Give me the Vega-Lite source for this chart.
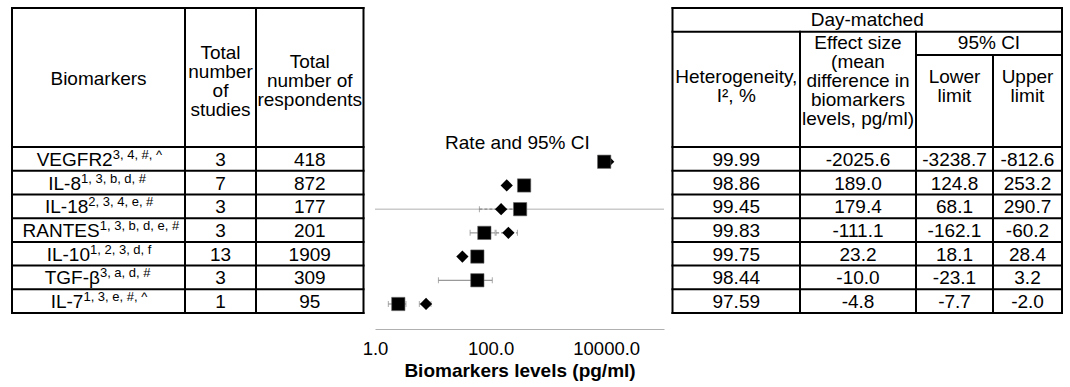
{
  "$schema": "https://vega.github.io/schema/vega-lite/v6.json",
  "padding": 0,
  "autosize": {"type": "pad"},
  "background": "white",
  "spacing": 9,
  "bounds": "flush",
  "config": {
    "font": "Liberation Sans",
    "view": {"stroke": null},
    "locale": {"number": {"decimal": ".", "thousands": ",", "grouping": [3], "currency": ["$", ""], "minus": "-"}},
    "text": {"color": "black", "fontSize": 19, "baseline": "middle", "lineHeight": 19}
  },
  "datasets": {
    "rows": [
      {"r": 0, "label": "VEGFR2", "sup": "3, 4, #, ^", "jx": 112.7, "studies": "3", "resp": "418", "i2": 99.99, "es": -2025.6, "lo": -3238.7, "hi": -812.6, "sq": 9230, "dm": 10830},
      {"r": 1, "label": "IL-8", "sup": "1, 3, b, d, #", "jx": 81, "studies": "7", "resp": "872", "i2": 98.86, "es": 189.0, "lo": 124.8, "hi": 253.2, "sq": 380, "dm": 190},
      {"r": 2, "label": "IL-18", "sup": "2, 3, 4, e, #", "jx": 88.3, "studies": "3", "resp": "177", "i2": 99.45, "es": 179.4, "lo": 68.1, "hi": 290.7, "sq": 324, "dm": 152, "dmLo": 64, "dmHi": 340},
      {"r": 3, "label": "RANTES", "sup": "1, 3, b, d, e, #", "jx": 99.7, "studies": "3", "resp": "201", "i2": 99.83, "es": -111.1, "lo": -162.1, "hi": -60.2, "sq": 78, "sqLo": 44.2, "sqHi": 119.7, "dm": 203, "dmLo": 124.5, "dmHi": 291},
      {"r": 4, "label": "IL-10", "sup": "1, 2, 3, d, f", "jx": 90, "studies": "13", "resp": "1909", "i2": 99.75, "es": 23.2, "lo": 18.1, "hi": 28.4, "sq": 59, "dm": 32.5},
      {"r": 5, "label": "TGF-β", "sup": "3, a, d, #", "jx": 99.9, "studies": "3", "resp": "309", "i2": 98.44, "es": -10.0, "lo": -23.1, "hi": 3.2, "sq": 59, "sqLo": 12.5, "sqHi": 107},
      {"r": 6, "label": "IL-7", "sup": "1, 3, e, #, ^", "jx": 83.4, "studies": "1", "resp": "95", "i2": 97.59, "es": -4.8, "lo": -7.7, "hi": -2.0, "sq": 2.53, "sqLo": 1.70, "sqHi": 3.44, "dm": 7.64, "dmLo": 5.85, "dmHi": 9.3}
    ],
    "leftLines": [
      {"x": 12, "x2": 363.5, "y": -6.37, "y2": -6.37},
      {"x": 12, "x2": 363.5, "y": -0.5, "y2": -0.5},
      {"x": 12, "x2": 363.5, "y": 0.5, "y2": 0.5},
      {"x": 12, "x2": 363.5, "y": 1.5, "y2": 1.5},
      {"x": 12, "x2": 363.5, "y": 2.5, "y2": 2.5},
      {"x": 12, "x2": 363.5, "y": 3.5, "y2": 3.5},
      {"x": 12, "x2": 363.5, "y": 4.5, "y2": 4.5},
      {"x": 12, "x2": 363.5, "y": 5.5, "y2": 5.5},
      {"x": 12, "x2": 363.5, "y": 6.5, "y2": 6.5},
      {"x": 12, "x2": 12, "y": -6.37, "y2": 6.5},
      {"x": 185, "x2": 185, "y": -6.37, "y2": 6.5},
      {"x": 256, "x2": 256, "y": -6.37, "y2": 6.5},
      {"x": 363.5, "x2": 363.5, "y": -6.37, "y2": 6.5}
    ],
    "leftHead": [
      {"x": 98.5, "y": -3.368, "t": "Biomarkers"},
      {"x": 220.5, "y": -4.465, "t": "Total\nnumber\nof\nstudies"},
      {"x": 309.75, "y": -4.085, "t": "Total\nnumber of\nrespondents"}
    ],
    "rightLines": [
      {"x": -0.5, "x2": 389, "y": -6.37, "y2": -6.37},
      {"x": -0.5, "x2": 389, "y": -5.364, "y2": -5.364},
      {"x": 243, "x2": 389, "y": -4.381, "y2": -4.381},
      {"x": -0.5, "x2": 389, "y": -0.5, "y2": -0.5},
      {"x": -0.5, "x2": 389, "y": 0.5, "y2": 0.5},
      {"x": -0.5, "x2": 389, "y": 1.5, "y2": 1.5},
      {"x": -0.5, "x2": 389, "y": 2.5, "y2": 2.5},
      {"x": -0.5, "x2": 389, "y": 3.5, "y2": 3.5},
      {"x": -0.5, "x2": 389, "y": 4.5, "y2": 4.5},
      {"x": -0.5, "x2": 389, "y": 5.5, "y2": 5.5},
      {"x": -0.5, "x2": 389, "y": 6.5, "y2": 6.5},
      {"x": -0.5, "x2": -0.5, "y": -6.37, "y2": 6.5},
      {"x": 389, "x2": 389, "y": -6.37, "y2": 6.5},
      {"x": 127, "x2": 127, "y": -5.364, "y2": 6.5},
      {"x": 243, "x2": 243, "y": -5.364, "y2": 6.5},
      {"x": 320, "x2": 320, "y": -4.381, "y2": 6.5}
    ],
    "rightHead": [
      {"x": 194.25, "y": -5.857, "t": "Day-matched"},
      {"x": 63.25, "y": -3.453, "t": "Heterogeneity,\nI², %"},
      {"x": 185, "y": -4.887, "t": "Effect size\n(mean\ndifference in\nbiomarkers\nlevels, pg/ml)"},
      {"x": 316, "y": -4.887, "t": "95% CI"},
      {"x": 281.5, "y": -3.453, "t": "Lower\nlimit"},
      {"x": 354.5, "y": -3.453, "t": "Upper\nlimit"}
    ]
  },
  "hconcat": [
    {
      "width": 366,
      "height": 313,
      "layer": [
        {
          "data": {"name": "leftLines"},
          "mark": {"type": "rule", "color": "black", "strokeWidth": 2, "strokeCap": "square"},
          "encoding": {
            "x": {"field": "x", "type": "quantitative", "scale": {"domain": [0, 366], "nice": false, "zero": false}, "axis": null},
            "x2": {"field": "x2"},
            "y": {"field": "y", "type": "quantitative", "scale": {"domain": [-6.7025, 6.5], "reverse": true, "nice": false, "zero": false}, "axis": null},
            "y2": {"field": "y2"}
          }
        },
        {
          "data": {"name": "leftHead"},
          "mark": {"type": "text", "lineBreak": "\n", "align": "center"},
          "encoding": {
            "x": {"field": "x", "type": "quantitative", "scale": {"domain": [0, 366], "nice": false, "zero": false}, "axis": null},
            "y": {"field": "y", "type": "quantitative", "scale": {"domain": [-6.7025, 6.5], "reverse": true, "nice": false, "zero": false}, "axis": null},
            "text": {"field": "t", "type": "nominal"}
          }
        },
        {
          "data": {"name": "rows"},
          "mark": {"type": "text", "align": "right", "dy": 1},
          "encoding": {
            "x": {"field": "jx", "type": "quantitative", "scale": {"domain": [0, 366], "nice": false, "zero": false}, "axis": null},
            "y": {"field": "r", "type": "quantitative", "scale": {"domain": [-6.7025, 6.5], "reverse": true, "nice": false, "zero": false}, "axis": null},
            "text": {"field": "label", "type": "nominal"}
          }
        },
        {
          "data": {"name": "rows"},
          "mark": {"type": "text", "align": "left", "dy": -4, "fontSize": 13},
          "encoding": {
            "x": {"field": "jx", "type": "quantitative", "scale": {"domain": [0, 366], "nice": false, "zero": false}, "axis": null},
            "y": {"field": "r", "type": "quantitative", "scale": {"domain": [-6.7025, 6.5], "reverse": true, "nice": false, "zero": false}, "axis": null},
            "text": {"field": "sup", "type": "nominal"}
          }
        },
        {
          "data": {"name": "rows"},
          "mark": {"type": "text", "align": "center", "dy": 1},
          "encoding": {
            "x": {"datum": 220.5, "type": "quantitative", "scale": {"domain": [0, 366], "nice": false, "zero": false}, "axis": null},
            "y": {"field": "r", "type": "quantitative", "scale": {"domain": [-6.7025, 6.5], "reverse": true, "nice": false, "zero": false}, "axis": null},
            "text": {"field": "studies", "type": "nominal"}
          }
        },
        {
          "data": {"name": "rows"},
          "mark": {"type": "text", "align": "center", "dy": 1},
          "encoding": {
            "x": {"datum": 309.75, "type": "quantitative", "scale": {"domain": [0, 366], "nice": false, "zero": false}, "axis": null},
            "y": {"field": "r", "type": "quantitative", "scale": {"domain": [-6.7025, 6.5], "reverse": true, "nice": false, "zero": false}, "axis": null},
            "text": {"field": "resp", "type": "nominal"}
          }
        }
      ]
    },
    {
      "width": 289,
      "height": 313,
      "data": {"name": "rows"},
      "layer": [
        {
          "transform": [{"filter": "datum.label == 'IL-18'"}],
          "mark": {"type": "rule", "color": "#b0b0b0", "strokeWidth": 1},
          "encoding": {
            "y": {"field": "r", "type": "quantitative", "scale": {"domain": [-6.8225, 6.38], "reverse": true, "nice": false, "zero": false}, "axis": null}
          }
        },
        {
          "transform": [{"filter": "datum.sqLo != null"}],
          "mark": {"type": "rule", "color": "#999999", "strokeWidth": 1.2},
          "encoding": {
            "x": {"field": "sqLo", "type": "quantitative", "scale": {"type": "log", "domain": [1, 100000], "nice": false},
              "axis": {"values": [1, 100, 10000], "format": ".1f", "labelFontSize": 18.5, "labelColor": "black", "domainColor": "#b0b0b0", "ticks": false, "grid": false, "offset": 16, "labelPadding": 10, "labelFlush": false, "labelOverlap": false,
                "title": "Biomarkers levels (pg/ml)", "titleFontSize": 19, "titleFontWeight": "bold", "titleColor": "black", "titlePadding": 4}},
            "x2": {"field": "sqHi"},
            "y": {"field": "r", "type": "quantitative", "scale": {"domain": [-6.8225, 6.38], "reverse": true, "nice": false, "zero": false}, "axis": null}
          }
        },
        {
          "transform": [{"filter": "datum.dmLo != null"}],
          "mark": {"type": "rule", "color": "#888888", "strokeWidth": 1.2, "strokeDash": [3, 2]},
          "encoding": {
            "x": {"field": "dmLo", "type": "quantitative", "scale": {"type": "log", "domain": [1, 100000], "nice": false}},
            "x2": {"field": "dmHi"},
            "y": {"field": "r", "type": "quantitative", "scale": {"domain": [-6.8225, 6.38], "reverse": true, "nice": false, "zero": false}, "axis": null}
          }
        },
        {
          "transform": [{"fold": ["sqLo", "sqHi", "dmLo", "dmHi"], "as": ["k", "v"]}, {"filter": "datum.v != null"}],
          "mark": {"type": "tick", "orient": "vertical", "size": 6, "thickness": 1, "color": "#888888"},
          "encoding": {
            "x": {"field": "v", "type": "quantitative", "scale": {"type": "log", "domain": [1, 100000], "nice": false}},
            "y": {"field": "r", "type": "quantitative", "scale": {"domain": [-6.8225, 6.38], "reverse": true, "nice": false, "zero": false}, "axis": null}
          }
        },
        {
          "transform": [{"filter": "datum.dm != null"}],
          "mark": {"type": "point", "shape": "diamond", "filled": true, "color": "black", "opacity": 1, "size": 150},
          "encoding": {
            "x": {"field": "dm", "type": "quantitative", "scale": {"type": "log", "domain": [1, 100000], "nice": false}},
            "y": {"field": "r", "type": "quantitative", "scale": {"domain": [-6.8225, 6.38], "reverse": true, "nice": false, "zero": false}, "axis": null}
          }
        },
        {
          "mark": {"type": "point", "shape": "square", "filled": true, "color": "black", "opacity": 1, "size": 177, "stroke": "#666666", "strokeWidth": 0.6},
          "encoding": {
            "x": {"field": "sq", "type": "quantitative", "scale": {"type": "log", "domain": [1, 100000], "nice": false}},
            "y": {"field": "r", "type": "quantitative", "scale": {"domain": [-6.8225, 6.38], "reverse": true, "nice": false, "zero": false}, "axis": null}
          }
        },
        {
          "transform": [{"filter": "datum.r == 0"}],
          "mark": {"type": "text", "align": "center", "text": "Rate and 95% CI"},
          "encoding": {
            "x": {"datum": 291, "type": "quantitative", "scale": {"type": "log", "domain": [1, 100000], "nice": false}},
            "y": {"datum": -0.78, "type": "quantitative", "scale": {"domain": [-6.8225, 6.38], "reverse": true, "nice": false, "zero": false}, "axis": null}
          }
        }
      ]
    },
    {
      "width": 397,
      "height": 313,
      "layer": [
        {
          "data": {"name": "rightLines"},
          "mark": {"type": "rule", "color": "black", "strokeWidth": 2, "strokeCap": "square"},
          "encoding": {
            "x": {"field": "x", "type": "quantitative", "scale": {"domain": [0, 397], "nice": false, "zero": false}, "axis": null},
            "x2": {"field": "x2"},
            "y": {"field": "y", "type": "quantitative", "scale": {"domain": [-6.7025, 6.5], "reverse": true, "nice": false, "zero": false}, "axis": null},
            "y2": {"field": "y2"}
          }
        },
        {
          "data": {"name": "rightHead"},
          "mark": {"type": "text", "lineBreak": "\n", "align": "center"},
          "encoding": {
            "x": {"field": "x", "type": "quantitative", "scale": {"domain": [0, 397], "nice": false, "zero": false}, "axis": null},
            "y": {"field": "y", "type": "quantitative", "scale": {"domain": [-6.7025, 6.5], "reverse": true, "nice": false, "zero": false}, "axis": null},
            "text": {"field": "t", "type": "nominal"}
          }
        },
        {
          "data": {"name": "rows"},
          "mark": {"type": "text", "align": "center", "dy": 1},
          "encoding": {
            "x": {"datum": 63.25, "type": "quantitative", "scale": {"domain": [0, 397], "nice": false, "zero": false}, "axis": null},
            "y": {"field": "r", "type": "quantitative", "scale": {"domain": [-6.7025, 6.5], "reverse": true, "nice": false, "zero": false}, "axis": null},
            "text": {"field": "i2", "type": "quantitative", "format": ".2f"}
          }
        },
        {
          "data": {"name": "rows"},
          "mark": {"type": "text", "align": "center", "dy": 1},
          "encoding": {
            "x": {"datum": 185, "type": "quantitative", "scale": {"domain": [0, 397], "nice": false, "zero": false}, "axis": null},
            "y": {"field": "r", "type": "quantitative", "scale": {"domain": [-6.7025, 6.5], "reverse": true, "nice": false, "zero": false}, "axis": null},
            "text": {"field": "es", "type": "quantitative", "format": ".1f"}
          }
        },
        {
          "data": {"name": "rows"},
          "mark": {"type": "text", "align": "center", "dy": 1},
          "encoding": {
            "x": {"datum": 281.5, "type": "quantitative", "scale": {"domain": [0, 397], "nice": false, "zero": false}, "axis": null},
            "y": {"field": "r", "type": "quantitative", "scale": {"domain": [-6.7025, 6.5], "reverse": true, "nice": false, "zero": false}, "axis": null},
            "text": {"field": "lo", "type": "quantitative", "format": ".1f"}
          }
        },
        {
          "data": {"name": "rows"},
          "mark": {"type": "text", "align": "center", "dy": 1},
          "encoding": {
            "x": {"datum": 354.5, "type": "quantitative", "scale": {"domain": [0, 397], "nice": false, "zero": false}, "axis": null},
            "y": {"field": "r", "type": "quantitative", "scale": {"domain": [-6.7025, 6.5], "reverse": true, "nice": false, "zero": false}, "axis": null},
            "text": {"field": "hi", "type": "quantitative", "format": ".1f"}
          }
        }
      ]
    }
  ]
}
